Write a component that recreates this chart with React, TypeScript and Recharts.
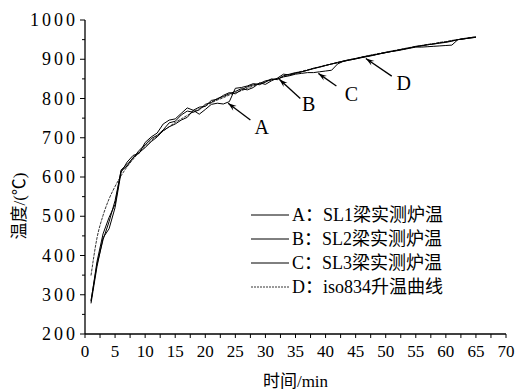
import React from 'react';
import {
  LineChart,
  Line,
  XAxis,
  YAxis,
  Legend,
  ReferenceLine,
  ReferenceDot,
  Label
} from 'recharts';

// time in minutes
const minutes = [
  1, 2, 3, 4, 5, 6, 7, 8, 9, 10, 11, 12, 13, 14, 15, 16, 17, 18, 19, 20,
  21, 22, 23, 24, 25, 26, 27, 28, 29, 30, 31, 32, 33, 34, 35, 36, 37, 38, 39, 40,
  41, 42, 43, 44, 45, 46, 47, 48, 49, 50, 51, 52, 53, 54, 55, 56, 57, 58, 59, 60,
  61, 62, 63, 64, 65
];

// A: SL1 beam measured furnace temperature
const sl1 = [
  278, 372, 445, 468, 522, 612, 638, 655, 660, 688,
  702, 712, 735, 745, 748, 762, 776, 770, 760, 772,
  785, 788, 786, 792, 826, 828, 832, 838, 835, 842,
  850, 848, 858, 862, 866, 868, 872, 877, 880, 884,
  888, 891, 895, 898, 901, 905, 908, 911, 914, 917,
  920, 923, 926, 929, 932, 934, 937, 939, 942, 944,
  947, 950, 952, 954, 956
];

// B: SL2
const sl2 = [
  283, 385, 455, 497, 530, 618, 632, 648, 668, 682,
  698, 706, 720, 738, 742, 758, 768, 765, 771, 785,
  790, 800, 805, 812, 818, 825, 822, 828, 840, 836,
  845, 852, 862, 860, 864, 868, 872, 876, 880, 884,
  888, 892, 895, 899, 902, 905, 908, 911, 914, 917,
  920, 923, 926, 929, 933, 935, 937, 939, 941, 943,
  946, 950, 952, 955, 957
];

// C: SL3
const sl3 = [
  285, 378, 440, 486, 540, 615, 628, 650, 662, 675,
  690, 702, 718, 728, 735, 745, 752, 770, 778, 780,
  795, 798, 808, 815, 812, 822, 830, 835, 838, 845,
  848, 850, 855, 858, 862, 864, 866, 866, 868, 870,
  872, 888, 895, 898, 901, 904, 907, 910, 914, 917,
  920, 922, 925, 928, 931, 931, 932, 933, 934, 935,
  936, 950, 952, 954, 956
];

// D: iso834 standard curve
const iso834 = [
  349, 445, 502, 544, 576, 603, 626, 645, 663, 678,
  693, 705, 717, 728, 739, 748, 757, 766, 774, 781,
  789, 796, 802, 809, 815, 820, 826, 832, 837, 842,
  847, 851, 856, 860, 865, 869, 873, 877, 881, 885,
  888, 892, 896, 899, 902, 906, 909, 912, 915, 918,
  921, 924, 927, 930, 932, 935, 938, 940, 943, 945,
  948, 950, 953, 955, 957
];

const xTicks = [
  0, 2.5, 5, 7.5, 10, 12.5, 15, 17.5, 20, 22.5, 25, 27.5, 30, 32.5, 35,
  37.5, 40, 42.5, 45, 47.5, 50, 52.5, 55, 57.5, 60, 62.5, 65, 67.5, 70
];
const yTicks = [
  200, 250, 300, 350, 400, 450, 500, 550, 600, 650, 700, 750, 800, 850, 900, 950, 1000
];

const legendItems = [
  { key: 'A', text: 'A：SL1梁实测炉温', dashed: false },
  { key: 'B', text: 'B：SL2梁实测炉温', dashed: false },
  { key: 'C', text: 'C：SL3梁实测炉温', dashed: false },
  { key: 'D', text: 'D：iso834升温曲线', dashed: true }
];

// arrows: tip point on curve, tail point, letter position
const arrows = [
  { name: 'A', tip: [23.8, 788], tail: [27.5, 745], label: [29.4, 728] },
  { name: 'B', tip: [32.3, 849], tail: [35.8, 800], label: [37.2, 787] },
  { name: 'C', tip: [38.8, 864], tail: [41.8, 832], label: [44.3, 811] },
  { name: 'D', tip: [46.7, 902], tail: [51, 857], label: [53, 841] }
];

const data = minutes.map((t, i) => ({
  t,
  A: sl1[i],
  B: sl2[i],
  C: sl3[i],
  D: iso834[i]
}));

const serif = '"Liberation Serif", "Times New Roman", serif';
const cjk = '"Liberation Serif", "Noto Sans CJK SC", serif';

const XTick = (props: any) => {
  const { x, y, payload } = props;
  if (payload.value % 5 !== 0) return <g />;
  return (
    <text x={x} y={y} dy={17} textAnchor="middle" fontFamily={serif} fontSize={17} fill="#000">
      {payload.value}
    </text>
  );
};

const YTick = (props: any) => {
  const { x, y, payload } = props;
  const major = payload.value % 100 === 0;
  return (
    <g>
      {major && <line x1={x - 2} x2={x} y1={y} y2={y} stroke="#000" strokeWidth={1} />}
      {major && (
        <text
          x={x - 4}
          y={y}
          dy={6}
          textAnchor="end"
          fontFamily={serif}
          fontSize={18}
          letterSpacing={3}
          fill="#000"
        >
          {payload.value}
        </text>
      )}
    </g>
  );
};

const Arrow = (props: any) => {
  const { x1, y1, x2, y2 } = props;
  // x1,y1 = tip ; x2,y2 = tail
  const ang = Math.atan2(y1 - y2, x1 - x2);
  const len = 9;
  const w = 0.32;
  const p1x = x1 - len * Math.cos(ang - w);
  const p1y = y1 - len * Math.sin(ang - w);
  const p2x = x1 - len * Math.cos(ang + w);
  const p2y = y1 - len * Math.sin(ang + w);
  const mx = x1 - len * 0.6 * Math.cos(ang);
  const my = y1 - len * 0.6 * Math.sin(ang);
  return (
    <g>
      <line x1={x1} y1={y1} x2={x2} y2={y2} stroke="#000" strokeWidth={1.3} />
      <polygon points={`${x1},${y1} ${p1x},${p1y} ${mx},${my} ${p2x},${p2y}`} fill="#000" />
    </g>
  );
};

const LegendContent = () => (
  <div style={{ fontFamily: cjk, fontSize: 18, color: '#000', lineHeight: '24px' }}>
    {legendItems.map((it) => (
      <div key={it.key} style={{ display: 'flex', alignItems: 'center', whiteSpace: 'nowrap' }}>
        <svg width={40} height={10} style={{ marginRight: 1 }}>
          <line
            x1={0}
            x2={38}
            y1={5}
            y2={5}
            stroke="#000"
            strokeWidth={it.dashed ? 0.8 : 1}
            strokeDasharray={it.dashed ? '2 1' : undefined}
          />
        </svg>
        <span>{it.text}</span>
      </div>
    ))}
  </div>
);

export default function App() {
  return (
    <div style={{ position: 'absolute', left: 0, top: 0, background: '#fff' }}>
      <LineChart
        width={520}
        height={391}
        data={data}
        margin={{ top: 20, right: 14, bottom: 0, left: 0 }}
      >
        <XAxis
          dataKey="t"
          type="number"
          domain={[0, 70]}
          ticks={xTicks}
          interval={0}
          height={57}
          tickSize={4}
          tickMargin={2}
          stroke="#000"
          axisLine={{ stroke: '#000', strokeWidth: 1.3 }}
          tickLine={{ stroke: '#000' }}
          tick={<XTick />}
        >
          <Label
            value="时间/min"
            position="insideBottom"
            offset={4}
            style={{ fontFamily: cjk, fontSize: 17, fill: '#000' }}
          />
        </XAxis>
        <YAxis
          type="number"
          domain={[200, 1000]}
          ticks={yTicks}
          interval={0}
          width={85}
          tickSize={3}
          tickMargin={0}
          axisLine={{ stroke: '#000', strokeWidth: 1.3 }}
          tickLine={{ stroke: '#000' }}
          tick={<YTick />}
        >
          <Label
            content={() => (
              <text
                x={19}
                y={206}
                transform="rotate(-90 19 206)"
                textAnchor="middle"
                dominantBaseline="central"
                fontFamily={cjk}
                fontSize={17}
                fill="#000"
              >
                温度/(℃)
              </text>
            )}
          />
        </YAxis>
        <Legend
          layout="horizontal"
          verticalAlign="middle"
          align="center"
          wrapperStyle={{ left: 251, top: 203, width: 240 }}
          content={<LegendContent />}
        />
        {arrows.map((a) => (
          <ReferenceLine
            key={`arrow-${a.name}`}
            segment={[
              { x: a.tip[0], y: a.tip[1] },
              { x: a.tail[0], y: a.tail[1] }
            ]}
            shape={<Arrow />}
            ifOverflow="visible"
          />
        ))}
        {arrows.map((a) => (
          <ReferenceDot
            key={`lbl-${a.name}`}
            x={a.label[0]}
            y={a.label[1]}
            r={0}
            fill="none"
            stroke="none"
            label={{
              value: a.name,
              position: 'center',
              style: { fontFamily: serif, fontSize: 20, fill: '#000' }
            }}
          />
        ))}
        <Line dataKey="D" type="monotone" stroke="#000" strokeWidth={0.8} strokeDasharray="3 1" dot={false} isAnimationActive={false} />
        <Line dataKey="A" type="linear" stroke="#000" strokeWidth={1} dot={false} isAnimationActive={false} />
        <Line dataKey="B" type="linear" stroke="#000" strokeWidth={1} dot={false} isAnimationActive={false} />
        <Line dataKey="C" type="linear" stroke="#000" strokeWidth={1} dot={false} isAnimationActive={false} />
      </LineChart>
    </div>
  );
}
